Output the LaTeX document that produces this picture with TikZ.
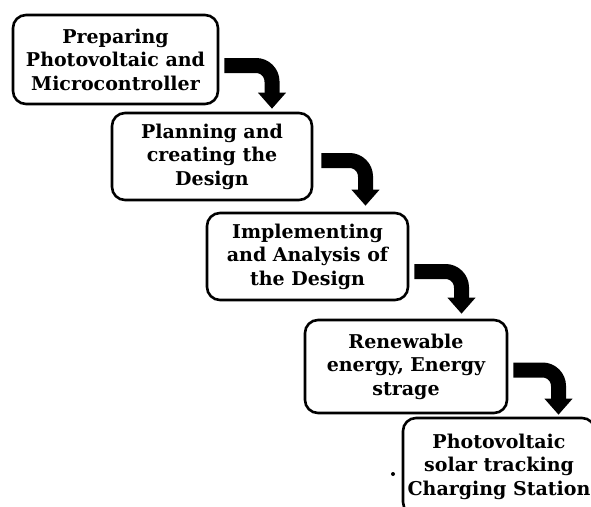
\documentclass[tikz,border=0pt]{standalone}
\usepackage{fontspec}
\setmainfont{DejaVu Serif}
\usetikzlibrary{arrows.meta}
\begin{document}
\begin{tikzpicture}[x=1pt,y=-1pt,
  stepbox/.style={draw,line width=2.6pt,rounded corners=13pt,align=center,
    inner sep=0pt,font=\bfseries\fontsize{19}{23.5}\selectfont},
  bigarrow/.style={line width=15pt,rounded corners=16pt,
    -{Triangle[length=16pt,width=27pt]}}]
\useasboundingbox (0,0) rectangle (591,506);
\clip (0,0) rectangle (591,506);
\node[stepbox,minimum width=205pt,minimum height=89pt] (b1) at (115.5,59.5)
  {Preparing\\Photovoltaic and\\Microcontroller};
\node[stepbox,minimum width=200pt,minimum height=87pt] (b2) at (212,156.5)
  {Planning and\\creating the\\Design};
\node[stepbox,minimum width=201pt,minimum height=87pt] (b3) at (307.5,256.5)
  {Implementing\\and Analysis of\\the Design};
\node[stepbox,minimum width=202pt,minimum height=93pt] (b4) at (406,366.5)
  {Renewable\\energy, Energy\\strage};
\node[stepbox,minimum width=192pt,minimum height=97pt] (b5) at (499,466.5)
  {Photovoltaic\\solar tracking\\Charging Station};
\draw[bigarrow] ([shift={(5,6)}]b1.east) -| ([shift={(60,-3)}]b2.north);
\draw[bigarrow] ([shift={(8,4)}]b2.east) -| ([shift={(58,-6)}]b3.north);
\draw[bigarrow] ([shift={(5,15)}]b3.east) -| ([shift={(55.5,-5)}]b4.north);
\draw[bigarrow] ([shift={(5,3.5)}]b4.east) -| ([shift={(59.5,-2)}]b5.north);
\coordinate (dot) at (393,474);
\fill (dot) circle (2pt);
\end{tikzpicture}
\end{document}
